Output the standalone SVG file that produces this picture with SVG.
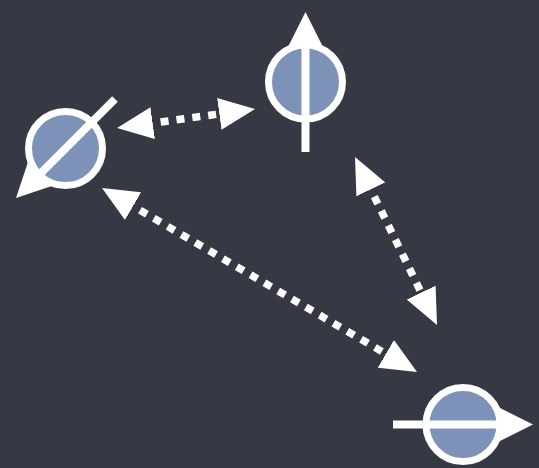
<svg xmlns="http://www.w3.org/2000/svg" width="539" height="468" viewBox="0 0 539 468">
  <style>
    .ring { fill: #7d92b9; stroke: #ffffff; stroke-width: 7; }
    .spin { fill: none; stroke: #ffffff; stroke-width: 8; stroke-linecap: butt; marker-end: url(#spinHead); }
    .link { fill: none; stroke: #ffffff; stroke-width: 7.5; stroke-dasharray: 8 8; stroke-dashoffset: 8; marker-start: url(#linkHead); marker-end: url(#linkHead); }
  </style>
  <defs>
    <marker id="spinHead" viewBox="0 0 36 36" refX="0" refY="18" markerWidth="36" markerHeight="36" markerUnits="userSpaceOnUse" orient="auto">
      <path d="M0,0 L36,18 L0,36 Z" fill="#ffffff"/>
    </marker>
    <marker id="linkHead" viewBox="0 0 36 32" refX="0" refY="16" markerWidth="36" markerHeight="32" markerUnits="userSpaceOnUse" orient="auto-start-reverse">
      <path d="M0,0 L36,16 L0,32 Z" fill="#ffffff"/>
    </marker>
  </defs>
  <rect x="0" y="0" width="539" height="468" fill="#363844"/>

  <g id="connectors">
    <path class="link" d="M152.7,123.1 L219.3,113.9"/>
    <path class="link" d="M370.8,189.4 L421.2,292.6"/>
    <path class="link" d="M133.1,206.2 L385.9,353.8"/>
  </g>

  <g id="node-left">
    <circle class="ring" cx="65.5" cy="148.5" r="37"/>
    <path class="spin" d="M115,99 L41.46,172.54"/>
  </g>

  <g id="node-top">
    <circle class="ring" cx="305.5" cy="82" r="37"/>
    <path class="spin" d="M305.5,152 L305.5,48"/>
  </g>

  <g id="node-bottom">
    <circle class="ring" cx="463" cy="424.5" r="37"/>
    <path class="spin" d="M393,424.5 L497,424.5"/>
  </g>
</svg>
